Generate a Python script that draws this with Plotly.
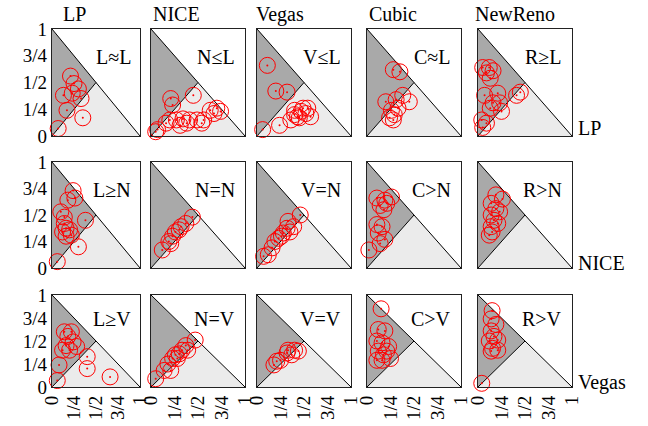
import plotly.graph_objects as go

col_names = ["LP", "NICE", "Vegas", "Cubic", "NewReno"]
row_names = ["LP", "NICE", "Vegas"]
panel_labels = [
    ["L≈L", "N≤L", "V≤L", "C≈L", "R≥L"],
    ["L≥N", "N=N", "V=N", "C>N", "R>N"],
    ["L≥V", "N=V", "V=V", "C>V", "R>V"],
]
tick_vals = [0, 0.25, 0.5, 0.75, 1]
tick_text = ["0", "1/4", "1/2", "3/4", "1"]

# ---- row LP ----
lp_lp_x = [0.21, 0.25, 0.13, 0.23, 0.33, 0.17, 0.35, 0.07, 0.30]
lp_lp_y = [0.56, 0.49, 0.38, 0.40, 0.35, 0.24, 0.17, 0.07, 0.44]
nice_lp_x = [0.21, 0.45, 0.23, 0.20, 0.27, 0.34, 0.41, 0.49, 0.56, 0.63, 0.70, 0.74, 0.67, 0.54, 0.07, 0.05, 0.16, 0.38, 0.31]
nice_lp_y = [0.35, 0.38, 0.29, 0.15, 0.15, 0.16, 0.15, 0.15, 0.15, 0.24, 0.26, 0.23, 0.21, 0.12, 0.06, 0.04, 0.12, 0.12, 0.10]
vegas_lp_x = [0.11, 0.20, 0.32, 0.40, 0.47, 0.52, 0.57, 0.43, 0.36, 0.24, 0.06, 0.49, 0.54, 0.40, 0.45]
vegas_lp_y = [0.66, 0.42, 0.41, 0.24, 0.23, 0.21, 0.18, 0.18, 0.15, 0.10, 0.06, 0.26, 0.26, 0.20, 0.17]
cubic_lp_x = [0.28, 0.35, 0.20, 0.31, 0.38, 0.45, 0.26, 0.29, 0.24, 0.28, 0.33]
cubic_lp_y = [0.62, 0.60, 0.32, 0.34, 0.38, 0.32, 0.24, 0.20, 0.17, 0.15, 0.26]
reno_lp_x = [0.05, 0.12, 0.09, 0.16, 0.13, 0.07, 0.21, 0.45, 0.41, 0.16, 0.23, 0.13, 0.25, 0.04, 0.05, 0.09]
reno_lp_y = [0.64, 0.64, 0.59, 0.61, 0.54, 0.38, 0.40, 0.41, 0.38, 0.31, 0.31, 0.26, 0.23, 0.15, 0.08, 0.12]

# ---- row NICE ----
lp_nice_x = [0.24, 0.18, 0.26, 0.10, 0.38, 0.14, 0.16, 0.12, 0.20, 0.16, 0.30, 0.06, 0.14, 0.22]
lp_nice_y = [0.73, 0.64, 0.66, 0.53, 0.45, 0.42, 0.375, 0.34, 0.36, 0.30, 0.20, 0.06, 0.48, 0.31]
nice_nice_x = [0.44, 0.37, 0.32, 0.26, 0.23, 0.19, 0.12, 0.30, 0.21]
nice_nice_y = [0.48, 0.42, 0.39, 0.34, 0.30, 0.25, 0.17, 0.36, 0.23]
vegas_nice_x = [0.46, 0.33, 0.39, 0.32, 0.28, 0.23, 0.19, 0.16, 0.07, 0.12, 0.26, 0.35]
vegas_nice_y = [0.50, 0.44, 0.39, 0.375, 0.33, 0.28, 0.25, 0.19, 0.11, 0.125, 0.30, 0.34]
cubic_nice_x = [0.105, 0.19, 0.26, 0.14, 0.18, 0.105, 0.16, 0.19, 0.12, 0.02, 0.14, 0.21]
cubic_nice_y = [0.66, 0.64, 0.67, 0.59, 0.55, 0.41, 0.39, 0.27, 0.33, 0.17, 0.23, 0.61]
reno_nice_x = [0.26, 0.19, 0.14, 0.19, 0.14, 0.17, 0.14, 0.15, 0.12, 0.21, 0.23]
reno_nice_y = [0.65, 0.69, 0.61, 0.56, 0.50, 0.45, 0.39, 0.34, 0.31, 0.42, 0.53]

# ---- row Vegas ----
lp_vegas_x = [0.14, 0.22, 0.18, 0.24, 0.16, 0.12, 0.28, 0.40, 0.40, 0.08, 0.66, 0.06, 0.20]
lp_vegas_y = [0.60, 0.60, 0.55, 0.49, 0.45, 0.40, 0.44, 0.33, 0.20, 0.24, 0.11, 0.07, 0.40]
nice_vegas_x = [0.47, 0.37, 0.33, 0.30, 0.26, 0.23, 0.18, 0.14, 0.05, 0.21, 0.28, 0.39]
nice_vegas_y = [0.51, 0.45, 0.40, 0.36, 0.35, 0.31, 0.25, 0.18, 0.09, 0.18, 0.31, 0.40]
vegas_vegas_x = [0.21, 0.25, 0.33, 0.40, 0.44, 0.37, 0.18, 0.32]
vegas_vegas_y = [0.28, 0.29, 0.40, 0.40, 0.39, 0.35, 0.24, 0.37]
cubic_vegas_x = [0.15, 0.12, 0.19, 0.105, 0.16, 0.23, 0.12, 0.175, 0.25, 0.105, 0.16, 0.21]
cubic_vegas_y = [0.85, 0.625, 0.61, 0.50, 0.48, 0.44, 0.39, 0.35, 0.31, 0.29, 0.29, 0.39]
reno_vegas_x = [0.15, 0.14, 0.19, 0.14, 0.17, 0.21, 0.12, 0.155, 0.14, 0.21, 0.04]
reno_vegas_y = [0.83, 0.74, 0.68, 0.61, 0.55, 0.51, 0.50, 0.42, 0.39, 0.40, 0.04]

points = [
    [(lp_lp_x, lp_lp_y), (nice_lp_x, nice_lp_y), (vegas_lp_x, vegas_lp_y), (cubic_lp_x, cubic_lp_y), (reno_lp_x, reno_lp_y)],
    [(lp_nice_x, lp_nice_y), (nice_nice_x, nice_nice_y), (vegas_nice_x, vegas_nice_y), (cubic_nice_x, cubic_nice_y), (reno_nice_x, reno_nice_y)],
    [(lp_vegas_x, lp_vegas_y), (nice_vegas_x, nice_vegas_y), (vegas_vegas_x, vegas_vegas_y), (cubic_vegas_x, cubic_vegas_y), (reno_vegas_x, reno_vegas_y)],
]

W, H = 648, 426
col_px = [(52, 140), (151, 245), (257, 351), (367, 461), (478, 572)]
row_px = [(29, 136), (162, 268), (295, 387)]
title_left_px = [61, 151, 254, 367, 473]
row_label_y_px = [128, 263, 382]

FONT = "Liberation Serif"
DARK = "#a9a9a9"
LIGHT = "#ebebeb"

fig = go.Figure()
shapes = []
annotations = []
layout_axes = {}

for r in range(3):
    for c in range(5):
        k = r * 5 + c + 1
        xa = "x" if k == 1 else f"x{k}"
        ya = "y" if k == 1 else f"y{k}"
        xs, ys = points[r][c]
        fig.add_trace(go.Scatter(
            x=xs, y=ys, mode="markers", xaxis=xa, yaxis=ya,
            marker=dict(symbol="circle-open", size=16, color="red",
                        line=dict(width=1, color="red")),
            cliponaxis=False, showlegend=False, hoverinfo="skip"))
        fig.add_trace(go.Scatter(
            x=xs, y=ys, mode="markers", xaxis=xa, yaxis=ya,
            marker=dict(symbol="circle", size=2, color="red",
                        line=dict(width=0)),
            cliponaxis=False, showlegend=False, hoverinfo="skip"))
        x0, x1 = col_px[c]
        y0, y1 = row_px[r]
        axis_common = dict(range=[0, 1], showgrid=False, zeroline=False,
                           showline=True, mirror=True, linecolor="#222",
                           linewidth=1.3, ticks="", fixedrange=True,
                           automargin=False,
                           tickvals=tick_vals, ticktext=tick_text,
                           tickfont=dict(family=FONT, size=19, color="black"))
        layout_axes["xaxis" if k == 1 else f"xaxis{k}"] = dict(
            axis_common, domain=[x0 / W, x1 / W], anchor=ya,
            showticklabels=(r == 2), tickangle=-90)
        layout_axes["yaxis" if k == 1 else f"yaxis{k}"] = dict(
            axis_common, domain=[1 - y1 / H, 1 - y0 / H], anchor=xa,
            showticklabels=(c == 0))
        shapes.append(dict(type="path", path="M 0 0 L 0 1 L 0.5 0.5 Z",
                           xref=xa, yref=ya, fillcolor=DARK,
                           line=dict(width=0), layer="below"))
        shapes.append(dict(type="path", path="M 0 0 L 0.5 0.5 L 1 0 Z",
                           xref=xa, yref=ya, fillcolor=LIGHT,
                           line=dict(width=0), layer="below"))
        shapes.append(dict(type="line", x0=0, y0=1, x1=1, y1=0,
                           xref=xa, yref=ya, line=dict(color="black", width=1),
                           layer="below"))
        shapes.append(dict(type="line", x0=0, y0=0, x1=0.5, y1=0.5,
                           xref=xa, yref=ya, line=dict(color="black", width=1),
                           layer="below"))
        annotations.append(dict(text=panel_labels[r][c], x=0.92, y=0.74,
                                xref=xa, yref=ya, xanchor="right",
                                yanchor="middle", showarrow=False,
                                font=dict(family=FONT, size=20, color="black")))

for c, name in enumerate(col_names):
    annotations.append(dict(text=name, x=title_left_px[c] / W, y=1 - 14 / H,
                            xref="paper", yref="paper", xanchor="left",
                            yanchor="middle", showarrow=False,
                            font=dict(family=FONT, size=20, color="black")))
for r, name in enumerate(row_names):
    annotations.append(dict(text=name, x=576 / W, y=1 - row_label_y_px[r] / H,
                            xref="paper", yref="paper", xanchor="left",
                            yanchor="middle", showarrow=False,
                            font=dict(family=FONT, size=20, color="black")))

fig.update_layout(
    width=W, height=H, margin=dict(l=0, r=0, t=0, b=0),
    paper_bgcolor="white", plot_bgcolor="white",
    shapes=shapes, annotations=annotations, showlegend=False,
    **layout_axes)

fig.write_html("out.html")
